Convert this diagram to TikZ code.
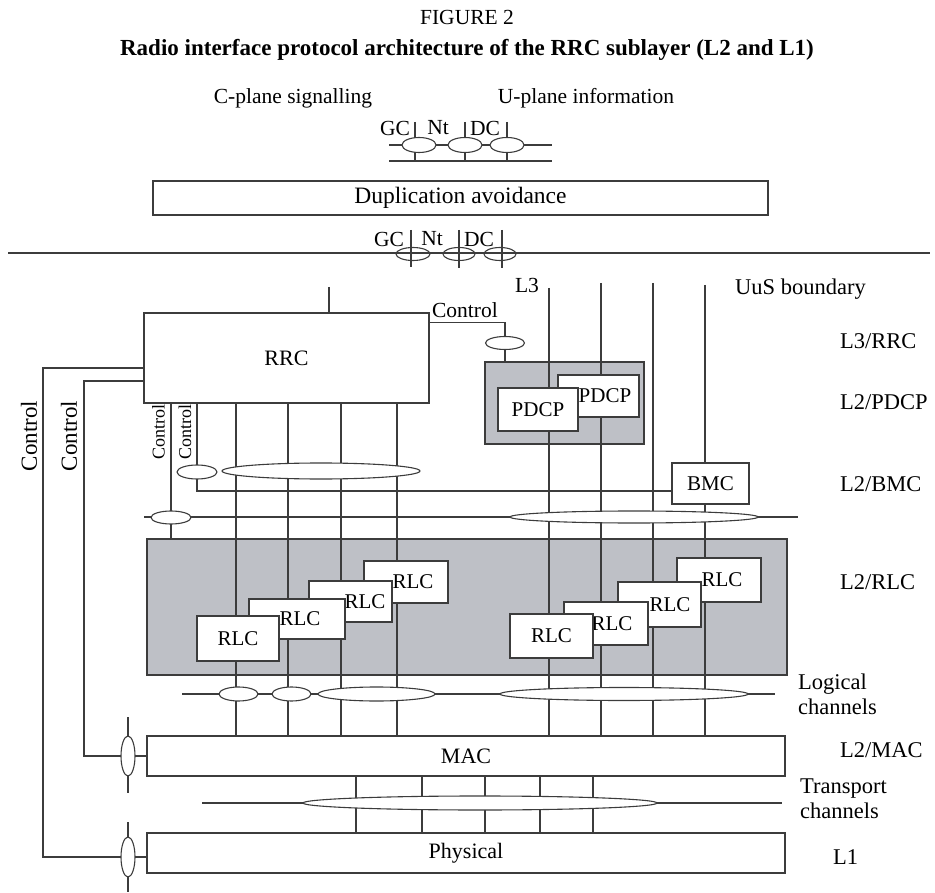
\documentclass[tikz,border=0pt]{standalone}
\usepackage{fontspec}
\setmainfont{Liberation Serif}
\usetikzlibrary{shapes.geometric}
\definecolor{ln}{RGB}{60,60,60}
\definecolor{gfill}{RGB}{190,192,198}
\tikzset{
  wire/.style={draw=ln, line width=1.1pt},
  box/.style={draw=ln, line width=1.1pt, fill=white, inner sep=0pt, outer sep=0pt, font=\fontsize{21}{24}\selectfont},
  grayarea/.style={draw=ln, line width=1.1pt, fill=gfill, inner sep=0pt, outer sep=0pt},
  oval/.style={draw=ln, line width=1.1pt, ellipse, fill=white, inner sep=0pt, outer sep=0pt},
  ringoval/.style={draw=ln, line width=1.1pt, ellipse, inner sep=0pt, outer sep=0pt},
  lbl/.style={font=\fontsize{21.5}{24}\selectfont, inner sep=0pt},
  layerlbl/.style={font=\fontsize{22.5}{25}\selectfont, inner sep=0pt, anchor=west, align=left},
  ctl/.style={font=\fontsize{18}{20}\selectfont, inner sep=0pt, rotate=90},
  bigctl/.style={font=\fontsize{23}{26}\selectfont, inner sep=0pt, rotate=90},
}
\begin{document}
\begin{tikzpicture}[x=1pt,y=-1pt]
\useasboundingbox (0,0) rectangle (935,893);

% titles
\node[font=\fontsize{21.5}{24}\selectfont, inner sep=0pt] (fig) at (467,17) {FIGURE 2};
\node[font=\bfseries\fontsize{23}{26}\selectfont, inner sep=0pt] (title) at (467,50) {Radio interface protocol architecture of the RRC sublayer (L2 and L1)};
\node[lbl] (cplane) at (293,98) {C-plane signalling};
\node[lbl] (uplane) at (586,98) {U-plane information};

% top SAP group
\draw[wire] (389,145) -- (552,145);
\draw[wire] (389,161) -- (552,161);
\draw[wire] (415,122) -- (415,161);
\draw[wire] (465,122) -- (465,161);
\draw[wire] (507,122) -- (507,161);
\node[oval, minimum width=34pt, minimum height=15pt] (ta) at (419,145) {};
\node[oval, minimum width=34pt, minimum height=15pt] (tb) at (465,145) {};
\node[oval, minimum width=34pt, minimum height=15pt] (tc) at (507,145) {};
\node[lbl] (gc1) at (395,128) {GC};
\node[lbl] (nt1) at (438,128) {Nt};
\node[lbl] (dc1) at (485,128) {DC};

% duplication avoidance
\node[box, font=\fontsize{23.5}{26}\selectfont, minimum width=615pt, minimum height=34pt] (dup) at (460.5,198) {Duplication avoidance};

% boundary line and second SAP group
\draw[wire] (8,253) -- (930,253);
\draw[wire] (411,230) -- (411,267);
\draw[wire] (459,230) -- (459,268);
\draw[wire] (502,230) -- (502,268);
\node[ringoval, minimum width=34pt, minimum height=13pt] (ba) at (413,254) {};
\node[ringoval, minimum width=32pt, minimum height=13pt] (bb) at (459,254) {};
\node[ringoval, minimum width=32pt, minimum height=13pt] (bc) at (500,254) {};
\node[lbl] (gc2) at (389,239) {GC};
\node[lbl] (nt2) at (432,239) {Nt};
\node[lbl] (dc2) at (479,239) {DC};

\node[lbl] (l3) at (527,285) {L3};
\node[layerlbl] (uus) at (735,289) {UuS boundary};

% gray areas
\node[grayarea, minimum width=159pt, minimum height=82pt] (pdcparea) at (564.5,403) {};
\node[grayarea, minimum width=640pt, minimum height=136pt] (rlcarea) at (467,607) {};

% main boxes
\node[box, font=\fontsize{22}{24}\selectfont, minimum width=285pt, minimum height=90pt] (rrc) at (286.5,358) {RRC};
\node[box, font=\fontsize{22}{24}\selectfont, minimum width=638pt, minimum height=40pt] (mac) at (466,756) {MAC};
\node[box, font=\fontsize{22}{24}\selectfont, minimum width=638pt, minimum height=40pt] (phy) at (466,853) {Physical};

% line above RRC
\draw[wire] (329,287) -- (rrc.north -| 329,0);

% vertical channel lines (left group)
\foreach \xx in {236,288,341,397} {
  \draw[wire] (\xx,0 |- rrc.south) -- (\xx,0 |- mac.north);
}
% vertical channel lines (right group)
\draw[wire] (549,288) -- (549,0 |- mac.north);
\draw[wire] (601,283) -- (601,0 |- mac.north);
\draw[wire] (653,283) -- (653,0 |- mac.north);

% BMC
\node[box, font=\fontsize{21}{24}\selectfont, minimum width=77pt, minimum height=41pt] (bmc) at (710.5,483.5) {BMC};
\draw[wire] (705,285) -- (bmc.north -| 705,0);
\draw[wire] (bmc.south -| 705,0) -- (705,0 |- mac.north);

% control to PDCP
\node[oval, minimum width=39pt, minimum height=13pt] (pdcpsap) at (505,343) {};
\draw[wire] (rrc.east |- 0,322.7) -- (505,322.7) -- (pdcpsap.north);
\draw[wire] (pdcpsap.south) -- (pdcparea.north -| 505,0);
\node[lbl] (ctlp) at (465,310) {Control};

% PDCP boxes
\node[box, minimum width=81pt, minimum height=42pt] (pdcp2) at (598.5,396) {\hspace{13pt}PDCP};
\node[box, minimum width=80pt, minimum height=43pt] (pdcp1) at (538,409.5) {PDCP};

% control lines from RRC to BMC level
\draw[wire] (171,0 |- rrc.south) -- (171,0 |- rlcarea.north);
\draw[wire] (197,0 |- rrc.south) -- (197,491) -- (bmc.west |- 0,491);
\node[oval, minimum width=40pt, minimum height=14pt] (bmcsap) at (197,472) {};
\node[oval, minimum width=198pt, minimum height=16pt] (bmcgrp) at (321,471) {};
\node[ctl] (ctla) at (158.5,432) {Control};
\node[ctl] (ctlb) at (185,432) {Control};

% line above RLC area
\draw[wire] (144,517) -- (798,517);
\node[oval, minimum width=40pt, minimum height=13pt] (rlcsap) at (171,517.5) {};
\node[oval, minimum width=248pt, minimum height=12pt] (rlcgrp) at (634,517) {};

% RLC boxes left
\node[box, minimum width=84pt, minimum height=42pt] (rlcl4) at (406,582) {\hspace{14pt}RLC};
\node[box, minimum width=83pt, minimum height=41pt] (rlcl3) at (350.5,601.5) {\hspace{29pt}RLC};
\node[box, minimum width=96pt, minimum height=40pt] (rlcl2) at (297,619) {\hspace{6pt}RLC};
\node[box, minimum width=82pt, minimum height=45pt] (rlcl1) at (238,638.5) {RLC};
% RLC boxes right
\node[box, minimum width=84pt, minimum height=44pt] (rlcr4) at (719,580) {\hspace{6pt}RLC};
\node[box, minimum width=83pt, minimum height=45pt] (rlcr3) at (659.5,604.5) {\hspace{21pt}RLC};
\node[box, minimum width=84pt, minimum height=43pt] (rlcr2) at (606,623.5) {\hspace{12pt}RLC};
\node[box, minimum width=83pt, minimum height=44pt] (rlcr1) at (551.5,636) {RLC};

% logical channels
\draw[wire] (182,694) -- (775,694);
\node[oval, minimum width=39pt, minimum height=14pt] (lc1) at (238.5,694) {};
\node[oval, minimum width=39pt, minimum height=14pt] (lc2) at (291.5,694) {};
\node[oval, minimum width=117pt, minimum height=14pt] (lc3) at (376.5,694) {};
\node[oval, minimum width=248pt, minimum height=13pt] (lc4) at (624,694) {};

% transport channels
\foreach \xx in {356,422,485,540,593} {
  \draw[wire] (\xx,0 |- mac.south) -- (\xx,0 |- phy.north);
}
\draw[wire] (202,803) -- (782,803);
\node[oval, minimum width=354pt, minimum height=14pt] (tch) at (480,803) {};

% left control loops to MAC and Physical
\draw[wire] (128,717) -- (128,793);
\draw[wire] (128,822) -- (128,892);
\node[oval, minimum width=14pt, minimum height=40pt] (macsap) at (128,756) {};
\node[oval, minimum width=14pt, minimum height=40pt] (physap) at (128,857) {};
\draw[wire] (rrc.west |- 0,368) -- (43,368) -- (43,857) -- (physap.west);
\draw[wire] (rrc.west |- 0,381) -- (84,381) -- (84,756) -- (macsap.west);
\draw[wire] (macsap.east) -- (mac.west |- macsap.east);
\draw[wire] (physap.east) -- (phy.west |- physap.east);
\node[bigctl] (ctlc) at (29,436) {Control};
\node[bigctl] (ctld) at (69,436) {Control};

% layer labels
\node[layerlbl] (lrrc) at (840,341) {L3/RRC};
\node[layerlbl] (lpdcp) at (840,402) {L2/PDCP};
\node[layerlbl] (lbmc) at (840,484) {L2/BMC};
\node[layerlbl] (lrlc) at (840,582) {L2/RLC};
\node[layerlbl] (llog) at (798,694) {Logical\\channels};
\node[layerlbl] (lmac) at (840,750) {L2/MAC};
\node[layerlbl] (ltr) at (800,799) {Transport\\channels};
\node[layerlbl] (ll1) at (833,857) {L1};
\end{tikzpicture}
\end{document}
